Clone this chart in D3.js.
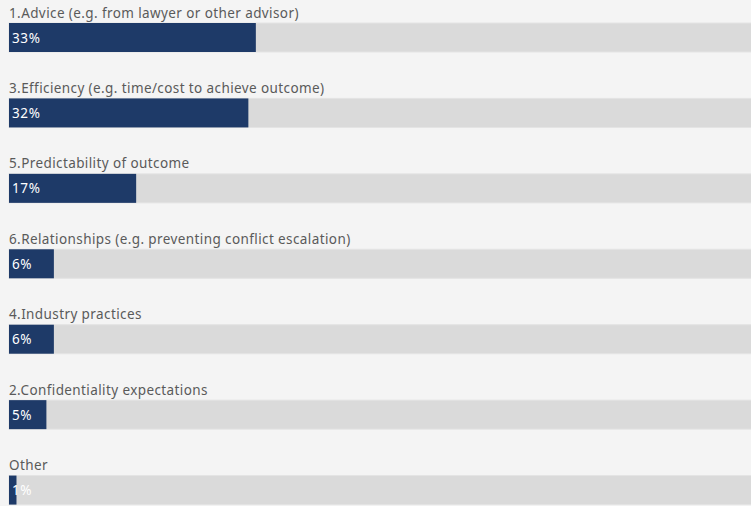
<!DOCTYPE html>
<html>
<head>
<meta charset="utf-8">
<script src="https://cdn.jsdelivr.net/npm/d3@7"></script>
<style>
  html, body { margin: 0; padding: 0; background: #f4f4f4; overflow: hidden; }
  svg { display: block; font-family: "Noto Sans", "Open Sans", sans-serif; }
</style>
</head>
<body>
<svg id="chart"></svg>
<script>
// answers, in the order they are shown
const categories = [
    '1.Advice (e.g. from lawyer or other advisor)',
    '3.Efficiency (e.g. time/cost to achieve outcome)',
    '5.Predictability of outcome',
    '6.Relationships (e.g. preventing conflict escalation)',
    '4.Industry practices',
    '2.Confidentiality expectations',
    'Other'
];
const values = [33, 32, 17, 6, 6, 5, 1];
const valueLabels = ['33%', '32%', '17%', '6%', '6%', '5%', '1%'];

const width = 751;
const height = 506;

const svg = d3.select('#chart')
    .attr('width', width)
    .attr('height', height);

// track runs past the right edge, like in the cropped screenshot
const x = d3.scaleLinear().domain([0, 100]).range([9, 757]);

const y = d3.scaleBand()
    .domain(categories)
    .range([0, 528])
    .paddingInner(0);

const barH = 29;
const barOffset = 23;

const row = svg.selectAll('g.row')
    .data(categories.map((c, i) => ({ name: c, value: values[i], label: valueLabels[i] })))
    .enter().append('g')
    .attr('class', 'row')
    .attr('transform', d => `translate(0, ${y(d.name)})`);

// grey track
row.append('rect')
    .attr('x', x(0))
    .attr('y', barOffset)
    .attr('width', x(100) - x(0))
    .attr('height', barH)
    .attr('fill', '#dadada')
    .attr('stroke', '#e4e4e4')
    .attr('stroke-width', 1);

// value bar
row.append('rect')
    .attr('x', x(0))
    .attr('y', barOffset)
    .attr('width', d => x(d.value) - x(0))
    .attr('height', barH)
    .attr('fill', '#1e3a68');

// category text above the bar
row.append('text')
    .attr('x', 9)
    .attr('y', barOffset - 5.5)
    .attr('font-size', 13.5)
    .attr('letter-spacing', 0.4)
    .attr('fill', '#5a5a5a')
    .text(d => d.name);

// percent inside the bar
row.append('text')
    .attr('x', 12)
    .attr('y', barOffset + 19.5)
    .attr('font-size', 13.5)
    .attr('letter-spacing', 0.6)
    .attr('fill', '#fff')
    .text(d => d.label);
</script>
</body>
</html>
